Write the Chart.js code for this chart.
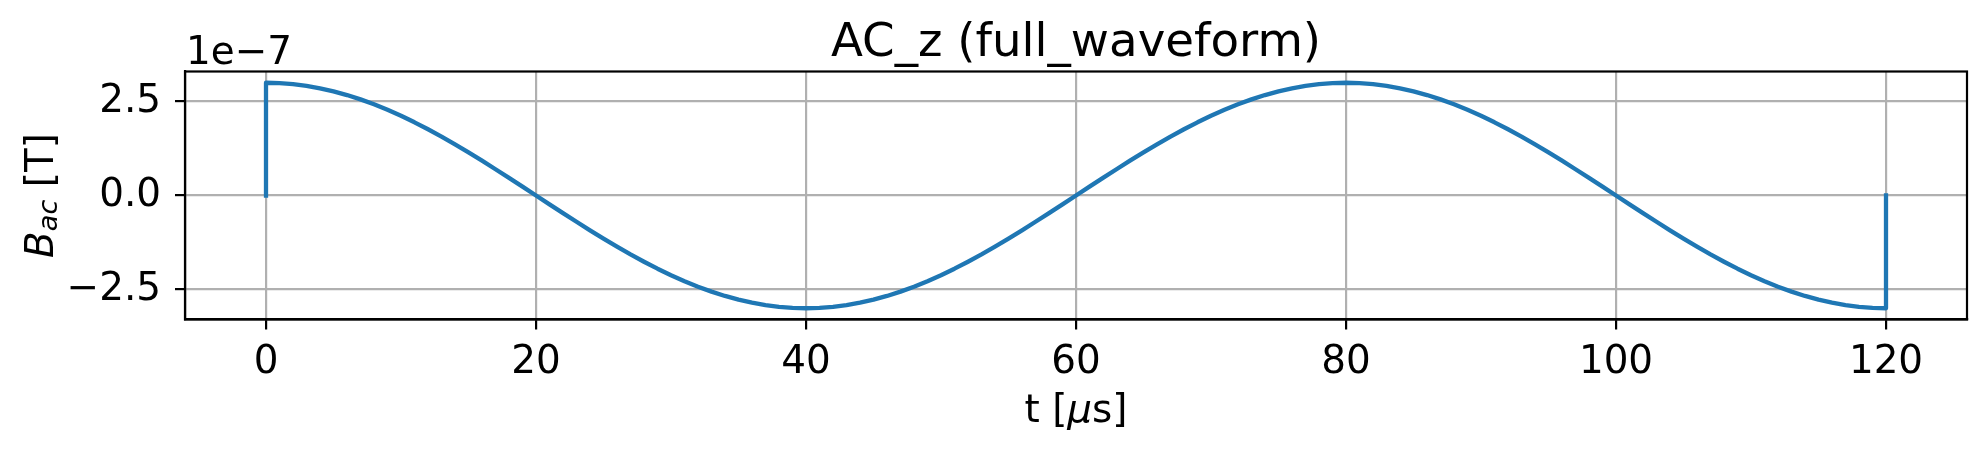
<!DOCTYPE html>
<html><head><meta charset="utf-8">
<script src="https://cdn.jsdelivr.net/npm/chart.js@4"></script>
<style>html,body{margin:0;padding:0;background:#fff;overflow:hidden}#wrap{width:1987px;height:451px;position:relative}canvas{display:block}</style>
</head><body><div id="wrap"><canvas id="c" width="1987" height="451"></canvas></div>
<script>
// time axis in microseconds
const timeUs = [0,0,1,2,3,4,5,6,7,8,9,10,11,12,13,14,15,16,17,18,19,20,
21,22,23,24,25,26,27,28,29,30,31,32,33,34,35,36,37,38,39,40,
41,42,43,44,45,46,47,48,49,50,51,52,53,54,55,56,57,58,59,60,
61,62,63,64,65,66,67,68,69,70,71,72,73,74,75,76,77,78,79,80,
81,82,83,84,85,86,87,88,89,90,91,92,93,94,95,96,97,98,99,100,
101,102,103,104,105,106,107,108,109,110,111,112,113,114,115,116,117,118,119,120,120];
// B_ac in units of 1e-7 T
const bAc = [0,3.000,2.991,2.963,2.917,2.853,2.772,2.673,2.558,2.427,2.281,2.121,1.948,1.763,1.568,1.362,1.148,0.927,0.700,0.469,0.235,0.000,
-0.235,-0.469,-0.700,-0.927,-1.148,-1.362,-1.568,-1.763,-1.948,-2.121,-2.281,-2.427,-2.558,-2.673,-2.772,-2.853,-2.917,-2.963,-2.991,-3.000,
-2.991,-2.963,-2.917,-2.853,-2.772,-2.673,-2.558,-2.427,-2.281,-2.121,-1.948,-1.763,-1.568,-1.362,-1.148,-0.927,-0.700,-0.469,-0.235,0.000,
0.235,0.469,0.700,0.927,1.148,1.362,1.568,1.763,1.948,2.121,2.281,2.427,2.558,2.673,2.772,2.853,2.917,2.963,2.991,3.000,
2.991,2.963,2.917,2.853,2.772,2.673,2.558,2.427,2.281,2.121,1.948,1.763,1.568,1.362,1.148,0.927,0.700,0.469,0.235,0.000,
-0.235,-0.469,-0.700,-0.927,-1.148,-1.362,-1.568,-1.763,-1.948,-2.121,-2.281,-2.427,-2.558,-2.673,-2.772,-2.853,-2.917,-2.963,-2.991,-3.000,0];
const xTickValues = [0,20,40,60,80,100,120];
const xTickLabels = ['0','20','40','60','80','100','120'];
const yTickValues = [-2.5,0,2.5];
const yTickLabels = ['\u22122.5','0.0','2.5'];
const titleText = 'AC_z (full_waveform)';
const offsetText = '1e\u22127';

const FONT = '"DejaVu Sans"';
const TICK_PX = 38.9;
const TITLE_PX = 46.7;

const points = timeUs.map((t, i) => ({x: t, y: bAc[i]}));

const decorations = {
  id: 'decorations',
  afterDraw(chart) {
    const ctx = chart.ctx;
    const a = chart.chartArea;
    ctx.save();
    // spines
    ctx.strokeStyle = '#000';
    ctx.lineWidth = 2.2;
    ctx.lineCap = 'square';
    ctx.strokeRect(a.left, a.top, a.right - a.left, a.bottom - a.top);
    ctx.fillStyle = '#000';
    // title
    ctx.font = TITLE_PX + 'px ' + FONT;
    ctx.textAlign = 'center';
    ctx.textBaseline = 'alphabetic';
    ctx.fillText(titleText, (a.left + a.right) / 2, 56);
    // offset text
    ctx.font = TICK_PX + 'px ' + FONT;
    ctx.textAlign = 'left';
    ctx.fillText(offsetText, a.left + 1, 64);
    // x label: t [μs]
    const reg = TICK_PX + 'px ' + FONT;
    const ital = 'italic ' + TICK_PX + 'px ' + FONT;
    const parts = [['t [', reg], ['\u03bc', ital], ['s]', reg]];
    let w = 0;
    parts.forEach(p => { ctx.font = p[1]; w += ctx.measureText(p[0]).width; });
    let x = (a.left + a.right) / 2 - w / 2;
    parts.forEach(p => { ctx.font = p[1]; ctx.fillText(p[0], x, 422); x += ctx.measureText(p[0]).width; });
    // y label: B_ac [T]
    const subPx = TICK_PX * 0.7;
    const yparts = [['B', ital, 0], ['ac', 'italic ' + subPx + 'px ' + FONT, 3.5], [' [T]', reg, 0]];
    w = 0;
    yparts.forEach(p => { ctx.font = p[1]; w += ctx.measureText(p[0]).width; });
    ctx.translate(53, (a.top + a.bottom) / 2);
    ctx.rotate(-Math.PI / 2);
    x = -w / 2;
    yparts.forEach(p => { ctx.font = p[1]; ctx.fillText(p[0], x, p[2]); x += ctx.measureText(p[0]).width; });
    ctx.restore();
  }
};

new Chart(document.getElementById('c'), {
  type: 'line',
  data: {
    datasets: [{
      data: points,
      borderColor: '#1f77b4',
      borderWidth: 4.3,
      pointRadius: 0,
      tension: 0,
      fill: false,
      borderCapStyle: 'square',
      borderJoinStyle: 'round'
    }]
  },
  options: {
    responsive: false,
    devicePixelRatio: 1,
    animation: false,
    parsing: false,
    layout: {padding: {top: 71.5, right: 20, bottom: 0, left: 0}},
    plugins: {legend: {display: false}, title: {display: false}, tooltip: {enabled: false}},
    scales: {
      x: {
        type: 'linear',
        min: -6, max: 126,
        afterBuildTicks: s => { s.ticks = xTickValues.map(v => ({value: v})); },
        afterFit: s => { s.height = 131.5; },
        ticks: {
          autoSkip: false, maxRotation: 0, minRotation: 0,
          color: '#000', padding: 10,
          font: {family: 'DejaVu Sans', size: TICK_PX},
          callback: (v) => { const i = xTickValues.indexOf(v); return i >= 0 ? xTickLabels[i] : ''; }
        },
        grid: {color: '#b0b0b0', lineWidth: 2.2, tickColor: '#000', tickLength: 10, tickWidth: 2.2, drawTicks: true},
        border: {display: true, color: '#000', width: 2.2}
      },
      y: {
        type: 'linear',
        min: -3.3, max: 3.3,
        afterBuildTicks: s => { s.ticks = yTickValues.map(v => ({value: v})); },
        afterFit: s => { s.width = 185; },
        ticks: {
          autoSkip: false,
          color: '#000', padding: 14,
          font: {family: 'DejaVu Sans', size: TICK_PX},
          callback: (v) => { const i = yTickValues.indexOf(v); return i >= 0 ? yTickLabels[i] : ''; }
        },
        grid: {color: '#b0b0b0', lineWidth: 2.2, tickColor: '#000', tickLength: 10, tickWidth: 2.2, drawTicks: true},
        border: {display: true, color: '#000', width: 2.2}
      }
    }
  },
  plugins: [decorations]
});
</script></body></html>
